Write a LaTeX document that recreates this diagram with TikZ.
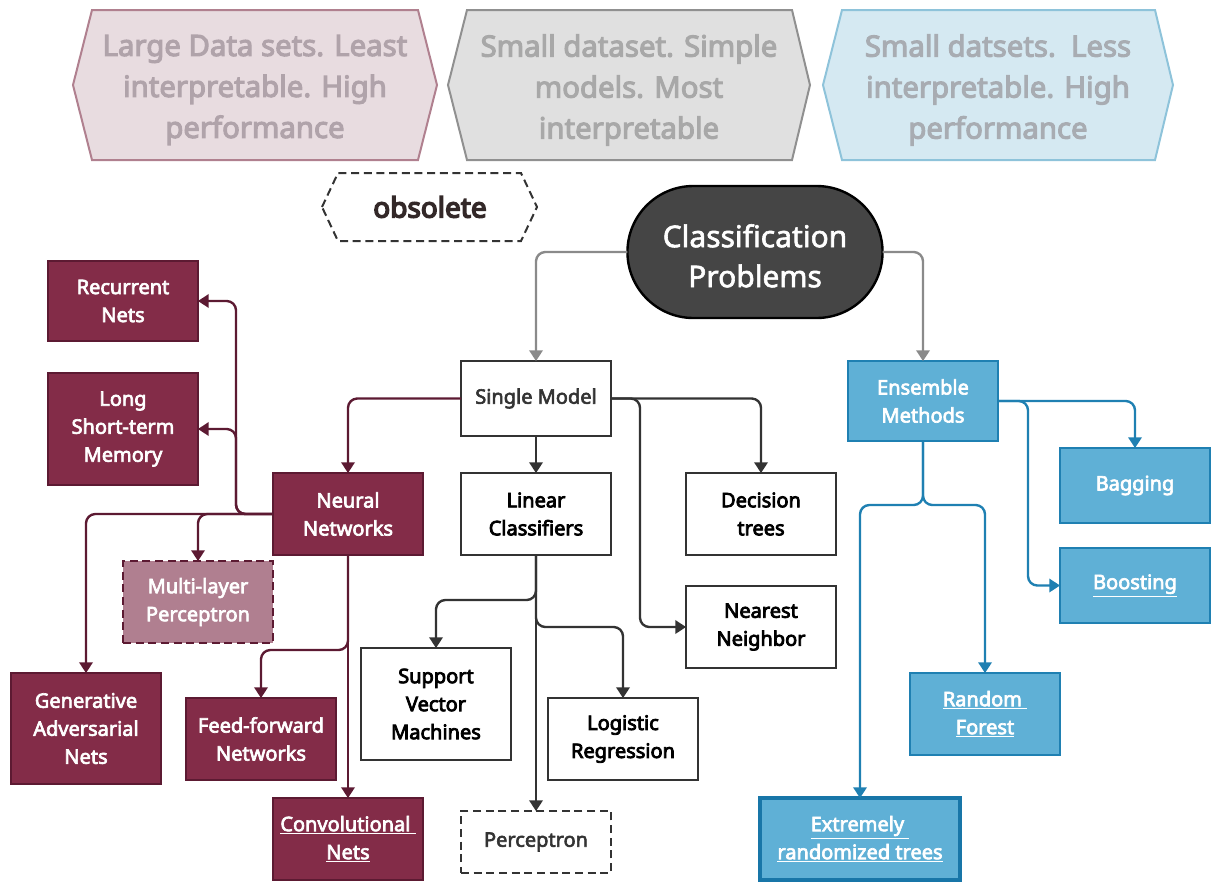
\documentclass[tikz,border=0pt]{standalone}
\usepackage{fontspec}
\setmainfont{Noto Sans}
\usetikzlibrary{arrows.meta,shapes.misc,calc}
\newcommand{\semi}[2]{\special{pdf:literal direct 2 Tr #1 w}#2\special{pdf:literal direct 0 Tr}}
\definecolor{maroon}{HTML}{832C48}
\definecolor{maroonD}{HTML}{5C1A32}
\definecolor{maroonL}{HTML}{B07F90}
\definecolor{blueF}{HTML}{5FB0D6}
\definecolor{blueD}{HTML}{1F80B2}
\definecolor{darkG}{HTML}{333333}
\definecolor{midG}{HTML}{8A8A8A}
\definecolor{cls}{HTML}{454545}
\begin{document}
\begin{tikzpicture}[x=0.75pt,y=-0.75pt,
  sz/.style 2 args={minimum width=#1*0.75pt, minimum height=#2*0.75pt},
  dsh/.style={dash pattern=on 6pt off 3.5pt},
  basebox/.style={rectangle, inner sep=2pt, outer sep=0pt, align=center, line width=1.8pt,
    font=\fontsize{15}{21}\selectfont},
  wbox/.style={basebox, draw=darkG, fill=white, text=black},
  mbox/.style={basebox, draw=maroonD, fill=maroon, text=white},
  bbox/.style={basebox, draw=blueD, fill=blueF, text=white},
  conn/.style={line width=1.8pt, rounded corners=7pt, -{Triangle[width=10pt,length=8pt]}},
  gconn/.style={conn, draw=midG},
  dconn/.style={conn, draw=darkG},
  mconn/.style={conn, draw=maroonD},
  bconn/.style={conn, draw=blueD},
  hexfont/.style={font=\fontsize{22}{30.75}\selectfont, align=center}
]
\useasboundingbox (0,0) rectangle (1215,882);

% top hexagons
\filldraw[fill={rgb,255:red,232;green,220;blue,224}, draw={rgb,255:red,176;green,128;blue,143}, line width=1.5pt]
  (73,85) -- (92,10) -- (418,10) -- (437,85) -- (418,160) -- (92,160) -- cycle;
\node[hexfont, text={rgb,255:red,176;green,163;blue,170}] (h1) at (255,90) {\semi{0.8}{Large Data sets. Least}\\\semi{0.8}{interpretable. High}\\\semi{0.8}{performance}};
\filldraw[fill={rgb,255:red,224;green,224;blue,224}, draw={rgb,255:red,144;green,144;blue,144}, line width=1.5pt]
  (448,85) -- (467,10) -- (792,10) -- (810,85) -- (792,160) -- (467,160) -- cycle;
\node[hexfont, text={rgb,255:red,168;green,168;blue,168}] (h2) at (629,90) {\semi{0.8}{Small dataset. Simple}\\\semi{0.8}{models. Most}\\\semi{0.8}{interpretable}};
\filldraw[fill={rgb,255:red,213;green,233;blue,242}, draw={rgb,255:red,142;green,195;blue,218}, line width=1.5pt]
  (823,85) -- (842,10) -- (1155,10) -- (1173,85) -- (1155,160) -- (842,160) -- cycle;
\node[hexfont, text={rgb,255:red,168;green,172;blue,178}] (h3) at (998,90) {\semi{0.8}{Small datsets.\ \ Less}\\\semi{0.8}{interpretable. High}\\\semi{0.8}{performance}};

% obsolete
\draw[darkG, dsh, line width=1.5pt] (322,207) -- (338,173) -- (521,173) -- (537,207) -- (521,241) -- (338,241) -- cycle;
\node[font=\fontsize{21}{24}\selectfont, text={rgb,255:red,51;green,40;blue,40}] (obs) at (430,207) {\semi{1.1}{obsolete}};

% root
\node[rounded rectangle, draw=black, fill=cls, line width=1.8pt, text=white, align=center, outer sep=0pt,
  minimum width=198pt, minimum height=99pt, font=\fontsize{22.5}{30}\selectfont] (root) at (755,252) {\rule{0pt}{23pt}\semi{0.45}{Classification}\\\semi{0.45}{Problems}};

% single model branch
\node[wbox, sz={150}{75}, text=darkG] (sm) at (536,398.5) {\semi{0.45}{Single Model}};
\node[wbox, sz={150}{82}] (lc) at (536,514) {\semi{0.6}{Linear}\\\semi{0.6}{Classifiers}};
\node[wbox, sz={150}{82}] (dt) at (761,514) {\semi{0.6}{Decision}\\\semi{0.6}{trees}};
\node[wbox, sz={150}{82}] (nnb) at (761,627) {\semi{0.6}{Nearest}\\\semi{0.6}{Neighbor}};
\node[wbox, sz={150}{112}] (svm) at (436,704) {\semi{0.6}{Support}\\\semi{0.6}{Vector}\\\semi{0.6}{Machines}};
\node[wbox, sz={150}{82}] (lr) at (623,739) {\semi{0.6}{Logistic}\\\semi{0.6}{Regression}};
\node[wbox, sz={150}{62}, dsh, text=darkG] (perc) at (536,842) {\semi{0.45}{Perceptron}};

% neural networks
\node[mbox, sz={150}{82}] (nn) at (348,514) {\semi{0.5}{Neural}\\\semi{0.5}{Networks}};
\node[mbox, sz={150}{80}] (rnn) at (123,301) {\semi{0.5}{Recurrent}\\\semi{0.5}{Nets}};
\node[mbox, sz={150}{112}] (lstm) at (123,429) {\semi{0.5}{Long}\\\semi{0.5}{Short-term}\\\semi{0.5}{Memory}};
\node[basebox, draw=maroonD, fill=maroonL, text=white, dsh, sz={150}{82}] (mlp) at (198,602) {\semi{0.5}{Multi-layer}\\\semi{0.5}{Perceptron}};
\node[mbox, sz={150}{111}] (gan) at (86,728.5) {\semi{0.5}{Generative}\\\semi{0.5}{Adversarial}\\\semi{0.5}{Nets}};
\node[mbox, sz={150}{82}] (ff) at (261,739) {\semi{0.5}{Feed-forward}\\\semi{0.5}{Networks}};
\node[mbox, sz={150}{82}] (conv) at (348,839) {\underline{\semi{0.5}{Convolutional}\ }\\\underline{\semi{0.5}{Nets}}};

% ensemble
\node[bbox, sz={150}{80}] (ens) at (923,401) {\semi{0.5}{Ensemble}\\\semi{0.5}{Methods}};
\node[bbox, sz={150}{75}] (bag) at (1135,485.5) {\semi{0.5}{Bagging}};
\node[bbox, sz={150}{75}] (boost) at (1135,585.5) {\underline{\semi{0.5}{Boosting}}};
\node[bbox, sz={150}{82}] (rf) at (985,714) {\underline{\semi{0.5}{Random}\ }\\\underline{\semi{0.5}{Forest}}};
\node[bbox, sz={200}{82}, line width=3pt, draw={rgb,255:red,24;green,118;blue,168}] (et) at (860,839) {\underline{\semi{0.5}{Extremely}\ }\\\underline{\semi{0.5}{randomized trees}}};

% connectors
\draw[gconn] (root.west) -| (sm.north);
\draw[gconn] (root.east) -| (ens.north);

\draw[mconn] (sm.west) -| (nn.north);
\draw[dconn] (sm.south) -- (lc.north);
\draw[dconn] (sm.east) -| (dt.north);
\draw[dconn] (sm.east) -| ($(nnb.west)+(-46,0)$) -- (nnb.west);
\draw[dconn] (lc.south) -- ++(0,45) -| (svm.north);
\draw[dconn] (lc.south) -- ++(0,72) -| (lr.north);
\draw[dconn] (lc.south) -- (perc.north);

\draw[mconn] (nn.west) -- ++(-37,0) |- (rnn.east);
\draw[mconn] (nn.west) -- ++(-37,0) |- (lstm.east);
\draw[mconn] (nn.west) -| (mlp.north);
\draw[mconn] (nn.west) -| (gan.north);
\draw[mconn] (nn.south) -- ++(0,95) -| (ff.north);
\draw[mconn] (nn.south) -- (conv.north);

\draw[bconn] (ens.east) -| (bag.north);
\draw[bconn] (ens.east) -- ++(30,0) |- (boost.west);
\draw[bconn] (ens.south) -- ++(0,64) -| (rf.north);
\draw[bconn] (ens.south) -- ++(0,64) -| (et.north);
\end{tikzpicture}
\end{document}
